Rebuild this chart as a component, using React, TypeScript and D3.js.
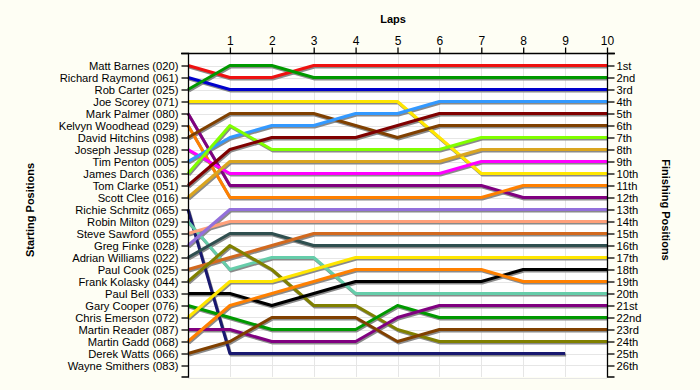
import React, { useEffect, useRef } from 'react';
import * as d3 from 'd3';

const drivers = [
  'Matt Barnes (020)', 'Richard Raymond (061)', 'Rob Carter (025)', 'Joe Scorey (071)',
  'Mark Palmer (080)', 'Kelvyn Woodhead (029)', 'David Hitchins (098)', 'Joseph Jessup (028)',
  'Tim Penton (005)', 'James Darch (036)', 'Tom Clarke (051)', 'Scott Clee (016)',
  'Richie Schmitz (065)', 'Robin Milton (029)', 'Steve Sawford (055)', 'Greg Finke (028)',
  'Adrian Williams (022)', 'Paul Cook (025)', 'Frank Kolasky (044)', 'Paul Bell (033)',
  'Gary Cooper (076)', 'Chris Emerson (072)', 'Martin Reader (087)', 'Martin Gadd (068)',
  'Derek Watts (066)', 'Wayne Smithers (083)'
];

const driverColors = [
  '#ee1111', '#0000cc', '#009900', '#ffe600', '#800080', '#ff8000', '#804000', '#ff00ff',
  '#3399ff', '#80ff00', '#800000', '#daa520', '#191970', '#66cdaa', '#ffa07a', '#9370db',
  '#2f4f4f', '#d2691e', '#808000', '#000000', '#009900', '#ffe600', '#800080', '#ff8000',
  '#804000', '#888888'
];

// position at lap 0..10 for each driver
const lapPositions: number[][] = [
  [1, 2, 2, 1, 1, 1, 1, 1, 1, 1, 1],
  [2, 3, 3, 3, 3, 3, 3, 3, 3, 3, 3],
  [3, 1, 1, 2, 2, 2, 2, 2, 2, 2, 2],
  [4, 4, 4, 4, 4, 4, 7, 10, 10, 10, 10],
  [5, 11, 11, 11, 11, 11, 11, 11, 12, 12, 12],
  [6, 12, 12, 12, 12, 12, 12, 12, 11, 11, 11],
  [7, 5, 5, 5, 6, 7, 6, 6, 6, 6, 6],
  [8, 10, 10, 10, 10, 10, 10, 9, 9, 9, 9],
  [9, 7, 6, 6, 5, 5, 4, 4, 4, 4, 4],
  [10, 6, 8, 8, 8, 8, 8, 7, 7, 7, 7],
  [11, 8, 7, 7, 7, 6, 5, 5, 5, 5, 5],
  [12, 9, 9, 9, 9, 9, 9, 8, 8, 8, 8],
  [13, 25, 25, 25, 25, 25, 25, 25, 25, 25],
  [14, 18, 17, 17, 20, 20, 20, 20, 20, 20, 20],
  [15, 14, 14, 14, 14, 14, 14, 14, 14, 14, 14],
  [16, 13, 13, 13, 13, 13, 13, 13, 13, 13, 13],
  [17, 15, 15, 16, 16, 16, 16, 16, 16, 16, 16],
  [18, 17, 16, 15, 15, 15, 15, 15, 15, 15, 15],
  [19, 16, 18, 21, 21, 23, 24, 24, 24, 24, 24],
  [20, 20, 21, 20, 19, 19, 19, 19, 18, 18, 18],
  [21, 22, 23, 23, 23, 21, 22, 22, 22, 22, 22],
  [22, 19, 19, 18, 17, 17, 17, 17, 17, 17, 17],
  [23, 23, 24, 24, 24, 22, 21, 21, 21, 21, 21],
  [24, 21, 20, 19, 18, 18, 18, 18, 19, 19, 19],
  [25, 24, 22, 22, 22, 24, 23, 23, 23, 23, 23],
  []
];

const lapTicks = [1, 2, 3, 4, 5, 6, 7, 8, 9, 10];
const finishLabels = [
  '1st', '2nd', '3rd', '4th', '5th', '6th', '7th', '8th', '9th', '10th', '11th', '12th', '13th',
  '14th', '15th', '16th', '17th', '18th', '19th', '20th', '21st', '22nd', '23rd', '24th', '25th', '26th'
];

const App = () => {
  const svgRef = useRef<SVGSVGElement>(null);

  useEffect(() => {
    const W = 700, H = 390;
    const left = 188, right = 607, top = 53, bottom = 377;
    const font = 'Arial, "Liberation Sans", sans-serif';

    const svg = d3.select(svgRef.current).attr('width', W).attr('height', H);
    svg.selectAll('*').remove();

    svg.append('rect').attr('width', W).attr('height', H).attr('fill', '#fefef4');
    svg.append('rect')
      .attr('x', left).attr('y', top)
      .attr('width', right - left).attr('height', bottom - top)
      .attr('fill', '#ffffff');

    const x = d3.scaleLinear().domain([0, 10]).range([left, right]);
    const y = d3.scaleLinear().domain([0, 27]).range([top + 0.5, bottom + 0.5]);
    const ranks = d3.range(1, 27);

    // grid
    svg.append('g').selectAll('line').data(ranks.concat([27])).enter().append('line')
      .attr('x1', left).attr('x2', right)
      .attr('y1', d => Math.round(y(d)) + 0.5).attr('y2', d => Math.round(y(d)) + 0.5)
      .attr('stroke', '#e6e6e6');
    svg.append('g').selectAll('line').data(lapTicks.slice(0, 9)).enter().append('line')
      .attr('y1', top).attr('y2', bottom)
      .attr('x1', d => Math.round(x(d)) + 0.5).attr('x2', d => Math.round(x(d)) + 0.5)
      .attr('stroke', '#e6e6e6');

    const line = d3.line<number>()
      .x((d, i) => x(i))
      .y(d => y(d));

    const series = lapPositions.map((p, i) => ({ p, c: driverColors[i] })).filter(s => s.p.length > 1);

    // shadows first
    svg.append('g').attr('transform', 'translate(1,1.5)')
      .selectAll('path').data(series).enter().append('path')
      .attr('d', d => line(d.p))
      .attr('fill', 'none')
      .attr('stroke', '#8a8a8a')
      .attr('stroke-width', 3)
      .attr('stroke-linejoin', 'round');

    svg.append('g')
      .selectAll('path').data(series).enter().append('path')
      .attr('d', d => line(d.p))
      .attr('fill', 'none')
      .attr('stroke', d => d.c)
      .attr('stroke-width', 3)
      .attr('stroke-linejoin', 'round');

    // axes
    const leftAxis = d3.axisLeft(y)
      .tickValues(ranks)
      .tickFormat(d => drivers[+d - 1])
      .tickSize(7).tickSizeOuter(7).tickPadding(3);
    const gl = svg.append('g').attr('transform', `translate(${left + 0.5},0)`).call(leftAxis);

    const rightAxis = d3.axisRight(y)
      .tickValues(ranks)
      .tickFormat(d => finishLabels[+d - 1])
      .tickSize(7).tickSizeOuter(7).tickPadding(2);
    const gr = svg.append('g').attr('transform', `translate(${right + 0.5},0)`).call(rightAxis);

    const topAxis = d3.axisTop(x)
      .tickValues(lapTicks)
      .tickFormat(d3.format('d'))
      .tickSize(6).tickSizeOuter(0).tickPadding(3);
    const gt = svg.append('g').attr('transform', `translate(0,${top + 0.5})`).call(topAxis);
    gt.select('.domain').attr('d', `M${left - 7},0H${right + 8}`);

    [gl, gr, gt].forEach(g => {
      g.selectAll('path,line').attr('stroke', '#000').attr('stroke-width', 1.3);
      g.selectAll('text').attr('font-family', font).attr('font-size', 11.2).attr('fill', '#000');
    });
    gt.selectAll('text').attr('font-size', 12);
    gl.select('.domain').attr('d', `M-7,${top + 0.5}H0V${bottom}H-7`);
    gr.select('.domain').attr('d', `M7,${top + 0.5}H0V${bottom}H7`);

    // titles
    svg.append('text').attr('x', 393).attr('y', 23)
      .attr('text-anchor', 'middle').attr('font-family', font)
      .attr('font-size', 11).attr('font-weight', 'bold').text('Laps');
    svg.append('text').attr('transform', 'translate(34,210) rotate(-90)')
      .attr('text-anchor', 'middle').attr('font-family', font)
      .attr('font-size', 11).attr('font-weight', 'bold').text('Starting Positions');
    svg.append('text').attr('transform', 'translate(662,210) rotate(90)')
      .attr('text-anchor', 'middle').attr('font-family', font)
      .attr('font-size', 11).attr('font-weight', 'bold').text('Finishing Positions');
  }, []);

  return (
    <svg ref={svgRef} style={{ position: 'absolute', left: 0, top: 0 }}></svg>
  );
};

export default App;
